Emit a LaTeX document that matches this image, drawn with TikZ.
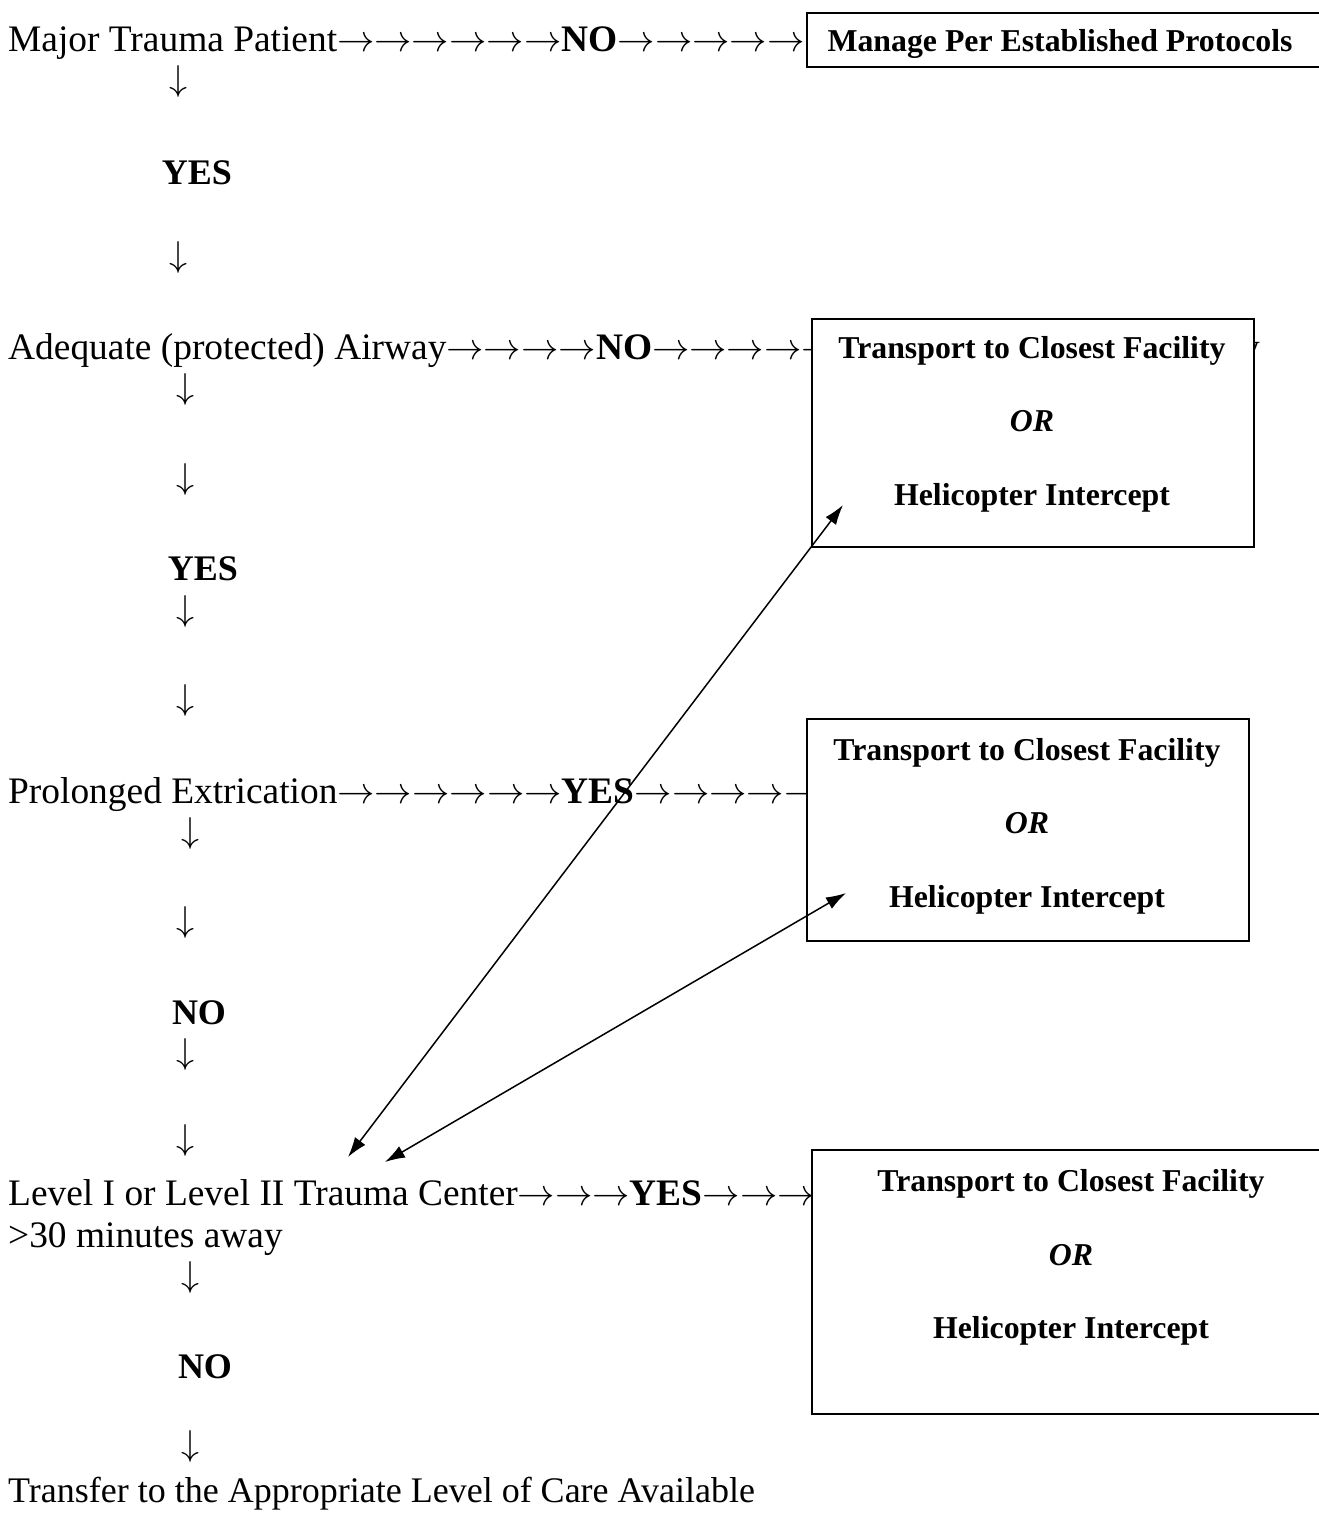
\documentclass[tikz,border=0pt]{standalone}
\usepackage{fix-cm}
\usepackage{fontspec}
\setmainfont{Liberation Serif}
\usetikzlibrary{arrows.meta}
\newcommand{\ra}{\(\rightarrow\)}
\newcommand{\da}{\(\downarrow\)}
\begin{document}
\begin{tikzpicture}[x=1pt,y=-1pt,
  txt/.style={inner sep=0pt, anchor=base west, font=\fontsize{37.4}{44}\selectfont},
  lasttxt/.style={inner sep=0pt, anchor=base west, font=\fontsize{36}{43}\selectfont},
  darr/.style={inner sep=0pt, font=\fontsize{36}{43}\selectfont},
  lbl/.style={inner sep=0pt, anchor=base, font=\fontsize{36}{43}\selectfont\bfseries},
  boxnode/.style={draw, line width=2pt, fill=white, anchor=north west, inner sep=0pt},
  btxt/.style={inner sep=0pt, anchor=base, font=\fontsize{31.8}{38}\selectfont\bfseries},
  bitxt/.style={btxt, font=\fontsize{31.8}{38}\selectfont\bfseries\itshape},
  link/.style={line width=1.5pt, {Latex[length=20pt,width=13pt]}-{Latex[length=20pt,width=13pt]}}]
\useasboundingbox (0,0) rectangle (1319,1515);

% main column texts
\node[txt] (r1) at (8,51) {Major Trauma Patient\ra\ra\ra\ra\ra\ra\textbf{NO}\ra\ra\ra\ra\ra\ra\ra};
\node[darr] (d1) at (178,81) {\da};
\node[lbl] (y1) at (197,184) {YES};
\node[darr] (d2) at (178,257) {\da};
\node[txt] (yfrag) at (1241,359) {y};
\node[txt] (r2) at (8,359) {Adequate (protected) Airway\ra\ra\ra\ra\textbf{NO}\ra\ra\ra\ra\ra\ra};
\node[darr] (d3) at (185,389) {\da};
\node[darr] (d4) at (185,479) {\da};
\node[lbl] (y2) at (203,580) {YES};
\node[darr] (d5) at (185,611) {\da};
\node[darr] (d6) at (185,700) {\da};
\node[txt] (r3) at (8,803) {Prolonged Extrication\ra\ra\ra\ra\ra\ra\textbf{YES}\ra\ra\ra\ra\ra\ra};
\node[darr] (d7) at (190,833) {\da};
\node[darr] (d8) at (185,922) {\da};
\node[lbl] (n1) at (199,1024) {NO};
\node[darr] (d9) at (185,1054) {\da};
\node[darr] (d10) at (185,1140) {\da};
\node[txt] (r4) at (8,1205) {Level I or Level II Trauma Center\ra\ra\ra\textbf{YES}\ra\ra\ra};
\node[txt] (r4b) at (8,1247) {>30 minutes away};
\node[darr] (d11) at (190,1277) {\da};
\node[lbl] (n2) at (205,1378) {NO};
\node[darr] (d12) at (190,1446) {\da};
\node[lasttxt] (r5) at (8,1502) {Transfer to the Appropriate Level of Care Available};

% boxes
\node[boxnode, minimum width=600pt, minimum height=54pt] (b1) at (806,12) {};
\node[btxt] (b1t) at (1060,51) {Manage Per Established Protocols};

\node[boxnode, minimum width=442pt, minimum height=228pt] (b2) at (811,318) {};
\node[btxt] (b2a) at (1032,358) {Transport to Closest Facility};
\node[bitxt] (b2b) at (1032,431) {OR};
\node[btxt] (b2c) at (1032,505) {Helicopter Intercept};

\node[boxnode, minimum width=442pt, minimum height=222pt] (b3) at (806,718) {};
\node[btxt] (b3a) at (1027,760) {Transport to Closest Facility};
\node[bitxt] (b3b) at (1027,833) {OR};
\node[btxt] (b3c) at (1027,907) {Helicopter Intercept};

\node[boxnode, minimum width=600pt, minimum height=264pt] (b4) at (811,1149) {};
\node[btxt] (b4a) at (1071,1191) {Transport to Closest Facility};
\node[bitxt] (b4b) at (1071,1265) {OR};
\node[btxt] (b4c) at (1071,1338) {Helicopter Intercept};

% diagonal two-headed connectors
\coordinate (p1) at (348,1157);
\coordinate (q1) at (843,505);
\coordinate (p2) at (385,1162);
\coordinate (q2) at (846,893);
\draw[link] (p1) -- (q1);
\draw[link] (p2) -- (q2);
\end{tikzpicture}
\end{document}
